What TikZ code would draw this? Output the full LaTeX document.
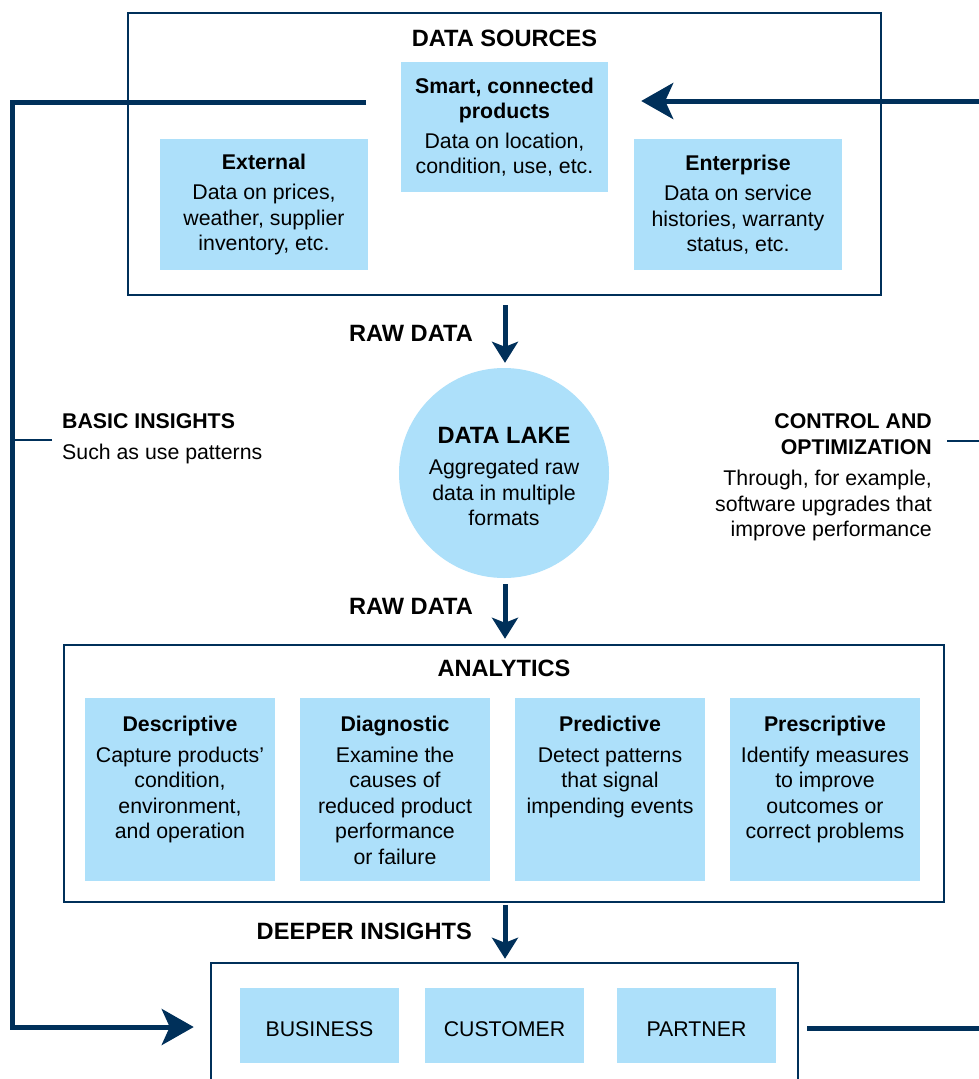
\documentclass[tikz,border=0pt]{standalone}
\usepackage{fontspec}
\setmainfont{Liberation Sans}
\usetikzlibrary{arrows.meta,calc}
\definecolor{navy}{RGB}{0,48,90}
\definecolor{lblue}{RGB}{173,224,250}
\tikzset{
  body/.style={font=\fontsize{21.3}{25.5}\selectfont, inner sep=0pt, text=black},
  head/.style={font=\fontsize{23.6}{27}\selectfont\bfseries, inner sep=0pt, text=black},
  frame/.style={draw=navy, line width=2.5pt, fill=white, inner sep=0pt, rectangle},
  lbox/.style={fill=lblue, draw=none, inner sep=0pt, rectangle, align=center,
     font=\fontsize{21.3}{25.5}\selectfont},
  conn/.style={draw=navy, line width=5pt},
  thinconn/.style={draw=navy, line width=2pt},
  bigtip/.style={-{Stealth[length=32pt,width=36pt,inset=8pt]}},
  smalltip/.style={-{Stealth[length=21pt,width=26pt,inset=5pt]}},
}
\begin{document}
\begin{tikzpicture}[x=1pt,y=-1pt]
\useasboundingbox (0,0) rectangle (978,1079);
\fill[white] (0,0) rectangle (978,1079);

% ---------- data sources
\node[frame, minimum width=753pt, minimum height=282pt] (src) at (504.5,154) {};
\node[head] (srctitle) at (504.5,38) {DATA SOURCES};
\node[lbox, minimum width=207pt, minimum height=130pt] (smart) at (504.5,127)
  {\textbf{Smart, connected}\\\textbf{products}\\[4pt]Data on location,\\condition, use, etc.};
\node[lbox, minimum width=208pt, minimum height=131pt] (ext) at (264,204.5)
  {\textbf{External}\\[5pt]Data on prices,\\weather, supplier\\inventory, etc.};
\node[lbox, minimum width=208pt, minimum height=131pt] (ent) at (738,204.5)
  {\textbf{Enterprise}\\[5pt]Data on service\\histories, warranty\\status, etc.};

% ---------- data lake
\node[circle, fill=lblue, minimum size=210pt, inner sep=0pt] (lake) at (504,473) {};
\node[body, align=center, anchor=north] (laketext) at (504,427)
  {{\fontsize{23.6}{25.5}\selectfont\bfseries DATA LAKE}\\[6pt]Aggregated raw\\data in multiple\\formats};

\node[head, anchor=east] (raw1) at (473,333) {RAW DATA};
\node[head, anchor=east] (raw2) at (473,606) {RAW DATA};

% ---------- analytics
\node[frame, minimum width=880pt, minimum height=257pt] (ana) at (504,773.5) {};
\node[head] (anatitle) at (504,668) {ANALYTICS};
\foreach \n/\x in {desc/180, diag/395, pred/610, presc/825}{
  \node[lbox, minimum width=190pt, minimum height=183pt] (\n) at (\x,789.5) {};
}
\node[body, align=center, anchor=north] (desct) at ($(desc.north)+(0,18)$)
  {\textbf{Descriptive}\\[5.5pt]Capture products’\\condition,\\environment,\\and operation};
\node[body, align=center, anchor=north] (diagt) at ($(diag.north)+(0,18)$)
  {\textbf{Diagnostic}\\[5.5pt]Examine the\\causes of\\reduced product\\performance\\or failure};
\node[body, align=center, anchor=north] (predt) at ($(pred.north)+(0,18)$)
  {\textbf{Predictive}\\[5.5pt]Detect patterns\\that signal\\impending events};
\node[body, align=center, anchor=north] (presct) at ($(presc.north)+(0,18)$)
  {\textbf{Prescriptive}\\[5.5pt]Identify measures\\to improve\\outcomes or\\correct problems};

\node[head, anchor=east] (deeper) at (472,931) {DEEPER INSIGHTS};

% ---------- bottom
\node[frame, minimum width=587pt, minimum height=132pt] (bottom) at (504.5,1029) {};
\node[lbox, minimum width=159pt, minimum height=75pt] (bus) at (319.5,1025.5) {};
\node[lbox, minimum width=159pt, minimum height=75pt] (cus) at (504.5,1025.5) {};
\node[lbox, minimum width=159pt, minimum height=75pt] (par) at (696.5,1025.5) {};
\node[body] (bust) at ($(bus.center)+(0,4)$) {BUSINESS};
\node[body] (cust) at ($(cus.center)+(0,4)$) {CUSTOMER};
\node[body] (part) at ($(par.center)+(0,4)$) {PARTNER};

% ---------- side labels
\node[body, align=left, anchor=north west] (basic) at (62,413.5)
  {\textbf{BASIC INSIGHTS}\\[5pt]Such as use patterns};
\node[body, align=right, anchor=north east] (control) at (932,413.5)
  {\textbf{CONTROL AND}\\\textbf{OPTIMIZATION}\\[6pt]Through, for example,\\software upgrades that\\improve performance};

% ---------- connectors
\coordinate (lstart) at (366,102);
\coordinate (lcorner) at (12,102);
\coordinate (rstart) at (995,101);
\coordinate (ltick) at (52,440);
\coordinate (rtick) at (947,441);
\coordinate (ltip) at ($(bottom.west)+(-16,-2)$);

\draw[conn, bigtip] (lstart) -- (lcorner) -- (lcorner |- ltip) -- (ltip);
\draw[conn, bigtip] (rstart) -- ($(smart.east)+(33,-26)$);
\draw[conn] ($(bottom.east)+(8,-0.5)$) -- ($(bottom.east -| rstart)+(0,-0.5)$);
\draw[thinconn] (ltick) -- (ltick -| lcorner);
\draw[thinconn] (rtick) -- (rtick -| rstart);

\draw[conn, smalltip] ($(src.south)+(0.5,9)$) -- ($(lake.north)+(1,-5)$);
\draw[conn, smalltip] ($(lake.south)+(1,6)$) -- ($(ana.north)+(1,-5)$);
\draw[conn, smalltip] ($(ana.south)+(1,1.5)$) -- ($(bottom.north)+(0.5,-3)$);
\end{tikzpicture}
\end{document}
